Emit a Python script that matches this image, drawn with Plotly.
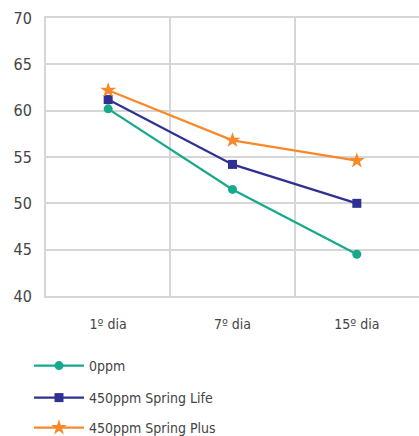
import plotly.graph_objects as go

categories = ["1º dia", "7º dia", "15º dia"]
y_ticks = [40, 45, 50, 55, 60, 65, 70]

series_names = ["0ppm", "450ppm Spring Life", "450ppm Spring Plus"]
values_0ppm = [60.2, 51.5, 44.5]
values_spring_life = [61.2, 54.2, 50.0]
values_spring_plus = [62.2, 56.8, 54.6]

colors = ["#17a98b", "#2e3192", "#f7892a"]
symbols = ["circle", "square", "star"]
all_values = [values_0ppm, values_spring_life, values_spring_plus]

font_family = "DejaVu Sans Condensed, Liberation Sans Narrow, sans-serif"
grid_color = "#d6d6d6"
text_color = "#444444"

x_pos = list(range(len(categories)))

fig = go.Figure()
legend_ids = ["legend", "legend2", "legend3"]
for name, vals, col, sym, lg in zip(series_names, all_values, colors, symbols, legend_ids):
    fig.add_trace(go.Scatter(
        x=x_pos, y=vals, name=name, mode="lines+markers",
        line=dict(color=col, width=2.2),
        marker=dict(color=col, symbol=sym, size=9 if sym != "star" else 12),
        legend=lg, cliponaxis=False,
    ))

W, H = 419, 436
legend_common = dict(
    font=dict(family=font_family, size=14, color=text_color),
    bgcolor="rgba(0,0,0,0)", xanchor="left", yanchor="middle",
    xref="container", yref="container", itemwidth=50,
)
legend_y = [366, 398, 428]
layout_legends = {}
for lg, yy in zip(legend_ids, legend_y):
    layout_legends[lg] = dict(legend_common, x=29 / W, y=1 - yy / H)

axis_line = dict(showline=True, linecolor=grid_color, linewidth=2)

fig.update_layout(
    width=W, height=H,
    margin=dict(l=46, r=0, t=18, b=140, autoexpand=False),
    paper_bgcolor="white", plot_bgcolor="white",
    font=dict(family=font_family, size=15, color=text_color),
    showlegend=True,
    xaxis=dict(
        range=[-0.5, 2.5], tickvals=x_pos, ticktext=categories,
        showgrid=False, zeroline=False, ticks="", mirror=True,
        tickfont=dict(size=14, color=text_color),
        minor=dict(tickvals=[-0.5, 0.5, 1.5, 2.5], showgrid=True,
                   gridcolor=grid_color, gridwidth=2, ticks=""),
        ticklabelstandoff=14, **axis_line,
    ),
    yaxis=dict(
        range=[40, 70], tickvals=y_ticks, showgrid=True,
        gridcolor=grid_color, gridwidth=2, zeroline=False,
        ticks="", tickfont=dict(size=16, color=text_color),
        ticklabelstandoff=9, **axis_line,
    ),
    **layout_legends,
)

fig.write_html("out.html")
